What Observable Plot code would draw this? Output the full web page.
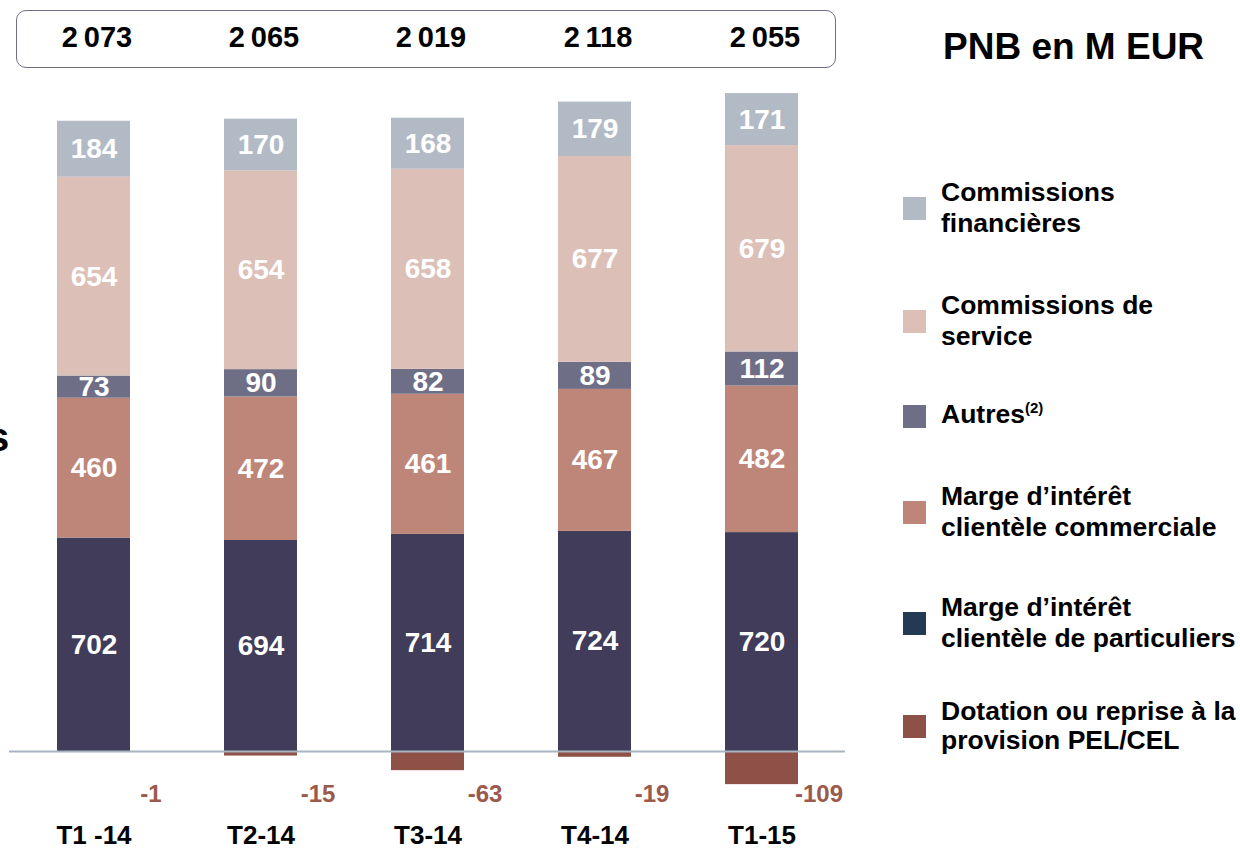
<!DOCTYPE html>
<html>
<head>
<meta charset="utf-8">
<script src="https://cdn.jsdelivr.net/npm/d3@7"></script>
<script src="https://cdn.jsdelivr.net/npm/@observablehq/plot@0.6"></script>
<style>
  body { margin: 0; background: #fff; font-family: "Liberation Sans", Arial, sans-serif; }
  #wrap { position: relative; width: 1240px; height: 849px; overflow: hidden; background: #fff; }
  #chart { position: absolute; left: 0; top: 0; }
  #box { position: absolute; left: 16px; top: 10px; width: 820px; height: 58px; box-sizing: border-box;
         border: 1.5px solid #6f6f86; border-radius: 10px; }
  #title { position: absolute; left: 943px; top: 28px; font-size: 37px; line-height: 37px; font-weight: bold; color: #000; white-space: nowrap; }
  #stray { position: absolute; left: -13px; top: 417px; font-size: 40px; line-height: 40px; font-weight: bold; color: #000; }
  .item { position: absolute; left: 903px; display: flex; align-items: center; transform: translateY(-50%); }
  .sw { width: 23px; height: 23px; flex: none; }
  .lab { margin-left: 15px; font-size: 26.5px; line-height: 31px; font-weight: bold; color: #000; white-space: nowrap; }
  .lab sup { font-size: 15px; vertical-align: 0; position: relative; top: -10px; }
</style>
</head>
<body>
<div id="wrap">
  <div id="chart"></div>
  <div id="box"></div>
  <div id="title">PNB en M EUR</div>
  <div id="stray">s</div>
  <div id="legend"></div>
</div>
<script>
// ---- data ----
const categories = ["T1 -14", "T2-14", "T3-14", "T4-14", "T1-15"];
const seriesNames = [
  "Marge d’intérêt clientèle de particuliers",
  "Marge d’intérêt clientèle commerciale",
  "Autres",
  "Commissions de service",
  "Commissions financières"
];
const pelName = "Dotation ou reprise à la provision PEL/CEL";
const particuliers = [702, 694, 714, 724, 720];
const commerciale = [460, 472, 461, 467, 482];
const autres = [73, 90, 82, 89, 112];
const service = [654, 654, 658, 677, 679];
const financieres = [184, 170, 168, 179, 171];
const provisionPEL = [-1, -15, -63, -19, -109];
const totals = [2073, 2065, 2019, 2118, 2055];

// ---- styles ----
const barColors = ["#403c59", "#be8679", "#6f6e87", "#dcc0b8", "#b2bac6"];
const pelColor = "#8e5147";

const seriesValues = [particuliers, commerciale, autres, service, financieres];
const table = [];
seriesNames.forEach((s, i) => categories.forEach((c, j) => table.push({quarter: c, series: s, value: seriesValues[i][j]})));
const negTable = categories.map((c, j) => ({quarter: c, series: pelName, value: provisionPEL[j]}));
const totalTable = categories.map((c, j) => ({quarter: c, total: totals[j]}));

const fmt = d3.formatLocale({decimal: ",", thousands: "\u2009", grouping: [3], currency: ["", " €"]}).format(",d");

const plot = Plot.plot({
  width: 1240,
  height: 849,
  marginTop: 80,
  marginBottom: 98,
  marginLeft: 9,
  marginRight: 395,
  style: {fontFamily: "'Liberation Sans', Arial, sans-serif", background: "white"},
  x: {domain: categories, paddingInner: 0.564, paddingOuter: 0.282, axis: null},
  y: {domain: [0, 2207], axis: null},
  color: {domain: [...seriesNames, pelName], range: [...barColors, pelColor]},
  marks: [
    Plot.barY(table.concat(negTable), {x: "quarter", y: "value", fill: "series"}),
    Plot.ruleY([0], {stroke: "#a9b3c1", strokeWidth: 2}),
    Plot.text(table, Plot.stackY({
      x: "quarter", y: "value", z: "series", text: d => String(d.value),
      fill: "white", fontSize: 28, fontWeight: "bold", lineAnchor: "middle"
    })),
    Plot.text(negTable, {
      x: "quarter", text: d => String(d.value), frameAnchor: "bottom", dy: 43, dx: 57,
      fill: "#9a5a4c", fontSize: 24, fontWeight: "bold", lineAnchor: "middle"
    }),
    Plot.text(categories, {
      x: d => d, text: d => d, frameAnchor: "bottom", dy: 84,
      fill: "black", fontSize: 26, fontWeight: "bold", lineAnchor: "middle"
    }),
    Plot.text(totalTable, {
      x: "quarter", text: d => fmt(d.total), frameAnchor: "top", dy: -43, dx: 3,
      fill: "black", fontSize: 29, fontWeight: "bold", lineAnchor: "middle"
    })
  ]
});
document.getElementById("chart").appendChild(plot);

// ---- legend (HTML) ----
const legendItems = [
  {label: "Commissions<br>financières", color: "#b2bac6", cy: 208},
  {label: "Commissions de<br>service", color: "#dcc0b8", cy: 321},
  {label: "Autres<sup>(2)</sup>", color: "#6f6e87", cy: 416},
  {label: "Marge d’intérêt<br>clientèle commerciale", color: "#be8679", cy: 512},
  {label: "Marge d’intérêt<br>clientèle de particuliers", color: "#233a55", cy: 623},
  {label: "Dotation ou reprise à la<br>provision PEL/CEL", color: pelColor, cy: 726, lh: 29}
];
const legend = document.getElementById("legend");
legendItems.forEach(it => {
  const div = document.createElement("div");
  div.className = "item";
  div.style.top = it.cy + "px";
  div.innerHTML = `<div class="sw" style="background:${it.color}"></div><div class="lab" style="${it.lh ? "line-height:" + it.lh + "px" : ""}">${it.label}</div>`;
  legend.appendChild(div);
});
</script>
</body>
</html>
